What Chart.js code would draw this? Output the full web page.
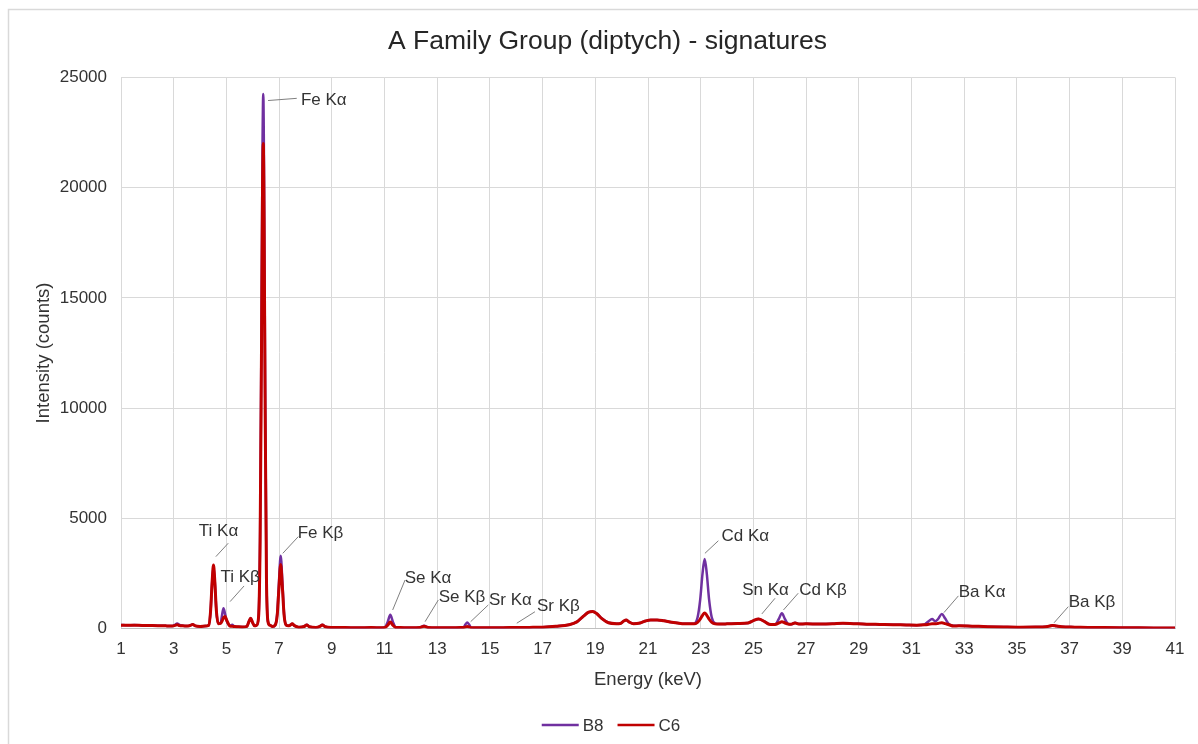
<!DOCTYPE html>
<html>
<head>
<meta charset="utf-8">
<title>A Family Group (diptych) - signatures</title>
<script src="https://cdn.jsdelivr.net/npm/chart.js@4.4.0/dist/chart.umd.min.js"></script>
<style>
  html, body { margin: 0; padding: 0; background: #fff; }
  #wrap { position: relative; width: 1198px; height: 744px; }
</style>
</head>
<body>
<div id="wrap"><canvas id="spectrum" width="1198" height="744"></canvas></div>
<script>
// energy axis (keV) and counts for each sample
const energy = [
  1.0, 1.25, 1.5, 1.8, 2.1, 2.4, 2.7, 2.95, 3.05, 3.13, 3.22, 3.35, 3.5, 3.63, 3.72, 3.82, 4.0, 4.2,
  4.33, 4.40, 4.46, 4.51, 4.56, 4.62, 4.69, 4.78, 4.84, 4.89, 4.95, 5.01, 5.08, 5.15, 5.22, 5.3,
  5.45, 5.6, 5.78, 5.85, 5.92, 5.99, 6.07, 6.15, 6.22, 6.28, 6.33, 6.37, 6.40, 6.43, 6.47, 6.52, 6.58,
  6.65, 6.75, 6.85, 6.93, 6.99, 7.06, 7.13, 7.19, 7.27, 7.35, 7.42, 7.5, 7.58, 7.75, 7.95, 8.05, 8.15,
  8.4, 8.55, 8.64, 8.75, 9.0, 9.5, 10.0, 10.5, 10.9, 11.02, 11.12, 11.22, 11.32, 11.42, 11.6, 12.0,
  12.35, 12.5, 12.65, 13.0, 13.5, 13.9, 14.0, 14.07, 14.14, 14.21, 14.28, 14.4, 15.0, 15.5, 16.0,
  16.5, 17.0, 17.5, 18.0, 18.3, 18.55, 18.75, 18.9, 19.05, 19.25, 19.5, 19.8, 19.95, 20.08, 20.17,
  20.28, 20.45, 20.7, 20.9, 21.1, 21.35, 21.6, 21.9, 22.3, 22.6, 22.75, 22.88, 22.98, 23.07, 23.15,
  23.23, 23.32, 23.42, 23.55, 23.7, 24.0, 24.4, 24.8, 25.0, 25.2, 25.4, 25.6, 25.75, 25.85, 25.97,
  26.08, 26.2, 26.32, 26.42, 26.58, 26.75, 27.0, 27.5, 28.0, 28.4, 28.8, 29.3, 29.8, 30.3, 30.8,
  31.2, 31.5, 31.65, 31.78, 31.9, 32.0, 32.15, 32.28, 32.42, 32.6, 32.8, 33.3, 33.9, 34.5, 35.1,
  35.7, 36.1, 36.25, 36.35, 36.5, 36.7, 37.2, 37.7, 38.3, 38.9, 39.5, 40.2, 41.0
];

const b8Counts = [
  160, 145, 155, 140, 135, 130, 120, 115, 170, 230, 160, 130, 110, 140, 190, 120, 95, 110,
  150, 800, 2100, 2800, 2100, 800, 220, 250, 650, 920, 650, 350, 180, 120, 170, 100,
  75, 70, 100, 300, 470, 280, 120, 150, 530, 4400, 13500, 21800, 24250, 20500, 11000, 2500, 300,
  150, 90, 150, 700, 2000, 3300, 2000, 650, 150, 120, 150, 220, 130, 60, 90, 170, 80,
  50, 100, 170, 80, 45, 40, 35, 40, 35, 60, 300, 620, 300, 60, 40, 35,
  45, 130, 45, 35, 35, 40, 50, 180, 270, 180, 50, 35, 30, 35, 45,
  50, 60, 100, 170, 300, 560, 740, 770, 680, 450, 260, 220, 230, 340, 390,
  300, 220, 250, 340, 390, 390, 350, 280, 220, 210, 220, 500, 1300, 2500, 3150,
  2500, 1300, 500, 230, 200, 210, 230, 250, 360, 430, 330, 190, 180, 200, 450,
  690, 420, 210, 190, 260, 200, 210, 205, 215, 240, 220, 195, 185, 175, 160,
  150, 190, 330, 430, 330, 420, 660, 450, 200, 120, 120, 105, 85, 70, 60,
  65, 80, 120, 150, 110, 75, 60, 45, 40, 35, 30, 25, 20
];

const c6Counts = [
  150, 145, 150, 140, 135, 130, 120, 115, 140, 170, 130, 120, 110, 140, 180, 120, 95, 110,
  150, 800, 2150, 2880, 2150, 800, 220, 230, 350, 480, 540, 380, 200, 100, 100, 90,
  75, 70, 100, 300, 460, 280, 120, 150, 500, 4000, 12300, 19800, 22000, 18600, 10000, 2300, 300,
  150, 90, 150, 620, 1750, 2900, 1750, 600, 150, 120, 150, 210, 130, 60, 90, 160, 80,
  50, 100, 160, 80, 45, 40, 35, 40, 35, 50, 150, 290, 150, 50, 40, 35,
  45, 100, 45, 35, 35, 40, 40, 70, 90, 70, 40, 35, 30, 35, 45,
  50, 60, 100, 170, 300, 560, 740, 770, 680, 450, 260, 220, 230, 340, 390,
  300, 220, 250, 340, 390, 390, 350, 280, 220, 210, 210, 280, 420, 600, 700,
  600, 420, 280, 210, 200, 210, 230, 250, 360, 430, 330, 190, 180, 190, 250,
  310, 250, 200, 190, 250, 200, 210, 205, 215, 240, 220, 195, 185, 175, 160,
  150, 170, 190, 210, 210, 230, 260, 220, 170, 110, 120, 105, 85, 70, 60,
  65, 80, 110, 140, 110, 75, 60, 45, 40, 35, 30, 25, 20
];

const seriesNames = ['B8', 'C6'];
const seriesColors = ['#7030A0', '#C00000'];

const xTicks = { min: 1, max: 41, step: 2 };
const yTicks = { min: 0, max: 25000, step: 5000 };

// peak labels: leader from (e0,c0) to (e1,c1), text centred at (et,ct), in data units
const peakLabels = [
  { text: 'Fe K\u03b1', e0: 6.58, c0: 23950, e1: 7.67, c1: 24050, et: 7.83, ct: 23980, align: 'left' },
  { text: 'Ti K\u03b1', e0: 4.60, c0: 3260, e1: 5.07, c1: 3870, et: 4.70, ct: 4390, align: 'center' },
  { text: 'Ti K\u03b2', e0: 5.14, c0: 1220, e1: 5.67, c1: 1930, et: 5.52, ct: 2340, align: 'center' },
  { text: 'Fe K\u03b2', e0: 7.14, c0: 3410, e1: 7.73, c1: 4170, et: 8.57, ct: 4330, align: 'center' },
  { text: 'Se K\u03b1', e0: 11.31, c0: 840, e1: 11.78, c1: 2200, et: 12.65, ct: 2290, align: 'center' },
  { text: 'Se K\u03b2', e0: 12.54, c0: 310, e1: 13.04, c1: 1290, et: 13.94, ct: 1430, align: 'center' },
  { text: 'Sr K\u03b1', e0: 14.27, c0: 310, e1: 14.94, c1: 1070, et: 15.78, ct: 1290, align: 'center' },
  { text: 'Sr K\u03b2', e0: 16.02, c0: 240, e1: 16.71, c1: 760, et: 17.60, ct: 990, align: 'center' },
  { text: 'Cd K\u03b1', e0: 23.16, c0: 3410, e1: 23.67, c1: 3980, et: 24.69, ct: 4170, align: 'center' },
  { text: 'Sn K\u03b1', e0: 25.32, c0: 660, e1: 25.82, c1: 1370, et: 25.46, ct: 1720, align: 'center' },
  { text: 'Cd K\u03b2', e0: 26.14, c0: 840, e1: 26.70, c1: 1600, et: 27.64, ct: 1750, align: 'center' },
  { text: 'Ba K\u03b1', e0: 32.23, c0: 720, e1: 32.78, c1: 1480, et: 33.68, ct: 1620, align: 'center' },
  { text: 'Ba K\u03b2', e0: 36.41, c0: 260, e1: 36.95, c1: 990, et: 37.85, ct: 1170, align: 'center' }
];

const FONT = '"Liberation Sans", Arial, sans-serif';
const TEXT_COLOR = '#333333';

function toPoints(values) {
    return energy.map((e, i) => ({ x: e, y: values[i] }));
}

const chartDecorations = {
    id: 'chartDecorations',
    beforeDraw(chart) {
        const ctx = chart.ctx;
        ctx.save();
        ctx.fillStyle = '#ffffff';
        ctx.fillRect(0, 0, chart.width, chart.height);
        ctx.strokeStyle = '#d9d9d9';
        ctx.lineWidth = 1.5;
        ctx.strokeRect(8.5, 9.5, chart.width + 40, chart.height + 40);
        ctx.restore();
    },
    afterDatasetsDraw(chart) {
        const ctx = chart.ctx;
        const xs = chart.scales.x;
        const ys = chart.scales.y;
        ctx.save();
        ctx.font = '17px ' + FONT;
        ctx.textBaseline = 'middle';
        peakLabels.forEach(lbl => {
            ctx.strokeStyle = '#808080';
            ctx.lineWidth = 1;
            ctx.beginPath();
            ctx.moveTo(xs.getPixelForValue(lbl.e0), ys.getPixelForValue(lbl.c0));
            ctx.lineTo(xs.getPixelForValue(lbl.e1), ys.getPixelForValue(lbl.c1));
            ctx.stroke();
            ctx.fillStyle = TEXT_COLOR;
            ctx.textAlign = lbl.align;
            ctx.fillText(lbl.text, xs.getPixelForValue(lbl.et), ys.getPixelForValue(lbl.ct));
        });
        ctx.restore();
    },
    afterDraw(chart) {
        // legend along the bottom
        const ctx = chart.ctx;
        ctx.save();
        ctx.font = '17px ' + FONT;
        ctx.textBaseline = 'middle';
        ctx.textAlign = 'left';
        const lineLen = 37, gap = 4, itemGap = 14;
        const widths = seriesNames.map(n => lineLen + gap + ctx.measureText(n).width);
        const total = widths.reduce((a, b) => a + b, 0) + itemGap * (widths.length - 1);
        let x = 611 - total / 2;
        const y = 725;
        seriesNames.forEach((name, i) => {
            ctx.strokeStyle = seriesColors[i];
            ctx.lineWidth = 2.5;
            ctx.beginPath();
            ctx.moveTo(x, y);
            ctx.lineTo(x + lineLen, y);
            ctx.stroke();
            ctx.fillStyle = TEXT_COLOR;
            ctx.fillText(name, x + lineLen + gap, y + 1);
            x += widths[i] + itemGap;
        });
        ctx.restore();
    }
};

const ctx = document.getElementById('spectrum');
const chart = new Chart(ctx, {
    type: 'line',
    data: {
        datasets: [
            {
                label: seriesNames[0],
                data: toPoints(b8Counts),
                borderColor: seriesColors[0],
                borderWidth: 2.5,
                order: 1
            },
            {
                label: seriesNames[1],
                data: toPoints(c6Counts),
                borderColor: seriesColors[1],
                borderWidth: 3,
                order: 0
            }
        ]
    },
    options: {
        responsive: false,
        animation: false,
        devicePixelRatio: 1,
        elements: {
            point: { radius: 0 },
            line: { cubicInterpolationMode: 'monotone', fill: false }
        },
        layout: { padding: { top: 0, right: 23, bottom: 0, left: 40 } },
        plugins: {
            legend: { display: false },
            tooltip: { enabled: false },
            title: {
                display: true,
                text: 'A Family Group (diptych) - signatures',
                color: '#262626',
                font: { family: FONT, size: 26.5, weight: 'normal', lineHeight: 1.2 },
                padding: { top: 25.6, bottom: 20 }
            }
        },
        scales: {
            x: {
                type: 'linear',
                min: xTicks.min,
                max: xTicks.max,
                afterFit(scale) { scale.height = 115.5; },
                afterBuildTicks(scale) {
                    const t = [];
                    for (let v = xTicks.min; v <= xTicks.max; v += xTicks.step) t.push({ value: v });
                    scale.ticks = t;
                },
                grid: { color: '#d9d9d9', lineWidth: 1, drawTicks: false },
                border: { color: '#bfbfbf', width: 1 },
                ticks: {
                    color: TEXT_COLOR,
                    font: { family: FONT, size: 17 },
                    padding: 10.3,
                    maxRotation: 0,
                    autoSkip: false,
                    callback: v => String(v)
                },
                title: {
                    display: true,
                    text: 'Energy (keV)',
                    color: TEXT_COLOR,
                    font: { family: FONT, size: 18.5, lineHeight: 1.2 },
                    padding: { top: 0, bottom: 52.9 }
                }
            },
            y: {
                min: yTicks.min,
                max: yTicks.max,
                afterFit(scale) { scale.width = 81; },
                grid: { color: '#d9d9d9', lineWidth: 1, drawTicks: false },
                border: { display: false },
                ticks: {
                    stepSize: yTicks.step,
                    color: TEXT_COLOR,
                    font: { family: FONT, size: 17 },
                    padding: 14,
                    callback: v => String(v)
                },
                title: {
                    display: true,
                    text: 'Intensity (counts)',
                    color: TEXT_COLOR,
                    font: { family: FONT, size: 18.5, lineHeight: 1.2 },
                    padding: { top: -7, bottom: 0 }
                }
            }
        }
    },
    plugins: [chartDecorations]
});
</script>
</body>
</html>
